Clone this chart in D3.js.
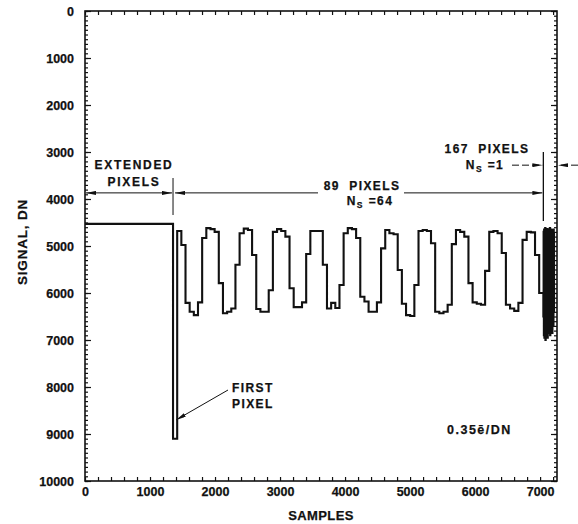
<!DOCTYPE html>
<html>
<head>
<meta charset="utf-8">
<script src="https://cdn.jsdelivr.net/npm/d3@7"></script>
<style>
  body { margin: 0; background: #fff; }
  svg { font-family: "Liberation Sans", Arial, Helvetica, sans-serif; font-weight: bold; }
  svg text { stroke: #111; stroke-width: 0.25px; white-space: pre; }
</style>
</head>
<body>
<svg width="578" height="524"></svg>
<script>
// extended pixels (flat level before the first pixel)
const extendedSamples = [0, 1354];
const extendedValues = [4530, 4520];

// 89 pixels, each summed over Ns = 64 samples, read pixel by pixel
const pixelStart = 1354;
const samplesPerPixel = 64;
const pixelValues = [9100, 4680, 4980, 6210, 6400, 6470, 6200, 4830, 4620, 4640,
  4700, 5790, 6430, 6400, 6330, 5400, 4730, 4630, 4660, 5190,
  6340, 6400, 6400, 5940, 4700, 4640, 4680, 4800, 5900, 6300,
  6300, 6200, 5170, 4680, 4680, 4680, 5400, 6330, 6210, 6320,
  5830, 4730, 4620, 4640, 4830, 6080, 6180, 6400, 6400, 6200,
  5050, 4660, 4730, 4750, 5510, 6230, 6470, 6490, 5830, 4680,
  4660, 4680, 4940, 6400, 6430, 6400, 6250, 4960, 4660, 4700,
  4800, 5790, 6200, 6230, 6250, 5530, 4700, 4680, 4730, 5150,
  6250, 6330, 6380, 6210, 4870, 4700, 4710, 5190, 6000];

// 167 pixels at Ns = 1, estimated every 4 samples (dense oscillation)
const fastStart = 7050;
const fastStep = 4;
const fastValues = [6500, 4700, 6900, 4650, 6950, 4700, 6800, 4620, 7000, 4680,
  6850, 4650, 6900, 4700, 6700, 4640, 6950, 4660, 6800, 4700,
  6600, 4650, 6850, 4680, 6700, 4620, 6900, 4700, 6500, 4650,
  6750, 4680, 6600, 4700, 6850, 4660, 6500, 4700, 6700, 4650,
  6400, 4720];
const fastEnd = 7217;

const xTicks = [0, 1000, 2000, 3000, 4000, 5000, 6000, 7000];
const yTicks = [0, 1000, 2000, 3000, 4000, 5000, 6000, 7000, 8000, 9000, 10000];

const svg = d3.select("svg");
const area = { left: 85, right: 557, top: 11, bottom: 481 };

const scX = d3.scaleLinear().domain([0, 7260]).range([area.left, area.right]);
const scY = d3.scaleLinear().domain([0, 10000]).range([area.top, area.bottom]);

// build series of points (sample, value)
let points = [];
extendedSamples.forEach((s, i) => points.push([s, extendedValues[i]]));
points.pop();
pixelValues.forEach((v, i) => points.push([pixelStart + i * samplesPerPixel, v]));
fastValues.forEach((v, i) => points.push([fastStart + i * fastStep, v]));
points.push([fastEnd, fastValues[fastValues.length - 1]]);

// ticks: minor ones
const minorX = d3.range(0, 7201, 200);
const minorY = d3.range(0, 10001, 100);

function tickAxis(axis, transform) {
  const g = svg.append("g").attr("transform", transform).call(axis);
  g.select(".domain").remove();
  g.selectAll("line").attr("stroke", "#111").attr("stroke-width", 1.2);
  return g;
}

tickAxis(d3.axisTop(scX).tickValues(minorX).tickSize(4).tickFormat(""), `translate(0,${area.bottom})`);
tickAxis(d3.axisBottom(scX).tickValues(minorX).tickSize(4).tickFormat(""), `translate(0,${area.top})`);
tickAxis(d3.axisRight(scY).tickValues(minorY).tickSize(3).tickFormat(""), `translate(${area.left},0)`);
tickAxis(d3.axisRight(scY).tickValues(yTicks).tickSize(6).tickFormat(""), `translate(${area.left},0)`);
tickAxis(d3.axisLeft(scY).tickValues(minorY).tickSize(3).tickFormat(""), `translate(${area.right},0)`);
tickAxis(d3.axisLeft(scY).tickValues(yTicks).tickSize(6).tickFormat(""), `translate(${area.right},0)`);

// labels
const yLab = svg.append("g")
  .attr("transform", `translate(${area.left},0)`)
  .call(d3.axisLeft(scY).tickValues(yTicks).tickSize(0).tickPadding(11).tickFormat(d3.format("d")));
yLab.select(".domain").remove();
yLab.selectAll("text").attr("font-size", 12.5).attr("font-family", null).attr("fill", "#111");

const xLab = svg.append("g")
  .attr("transform", `translate(0,${area.bottom})`)
  .call(d3.axisBottom(scX).tickValues(xTicks).tickSize(0).tickPadding(6).tickFormat(d3.format("d")));
xLab.select(".domain").remove();
xLab.selectAll("text").attr("font-size", 12.5).attr("font-family", null).attr("fill", "#111");

// frame
svg.append("rect")
  .attr("x", area.left).attr("y", area.top)
  .attr("width", area.right - area.left).attr("height", area.bottom - area.top)
  .attr("fill", "none").attr("stroke", "#111").attr("stroke-width", 1.6);

// signal
const line = d3.line()
  .x(d => scX(d[0]))
  .y(d => scY(d[1]))
  .curve(d3.curveStepAfter);

svg.append("path")
  .datum(points)
  .attr("d", line)
  .attr("fill", "none")
  .attr("stroke", "#111")
  .attr("stroke-width", 2.1);

// axis titles
svg.append("text")
  .attr("x", 321).attr("y", 520)
  .attr("text-anchor", "middle").attr("font-size", 13).attr("letter-spacing", 0.4)
  .attr("fill", "#111").text("SAMPLES");

svg.append("text")
  .attr("transform", "translate(27,242) rotate(-90)")
  .attr("text-anchor", "middle").attr("font-size", 13.5).attr("letter-spacing", 0.8)
  .attr("fill", "#111").text("SIGNAL, DN");

// arrow markers
const defs = svg.append("defs");
defs.append("marker")
  .attr("id", "arrow")
  .attr("viewBox", "0 0 10 4")
  .attr("refX", 10).attr("refY", 2)
  .attr("markerWidth", 10).attr("markerHeight", 4)
  .attr("markerUnits", "userSpaceOnUse")
  .attr("orient", "auto-start-reverse")
  .append("path").attr("d", "M0,0 L10,2 L0,4 Z").attr("fill", "#111");

function arrow(x1, y1, x2, y2, start, end, dash) {
  svg.append("line")
    .attr("x1", x1).attr("y1", y1).attr("x2", x2).attr("y2", y2)
    .attr("stroke", "#111").attr("stroke-width", 1)
    .attr("stroke-dasharray", dash || null)
    .attr("marker-start", start ? "url(#arrow)" : null)
    .attr("marker-end", end ? "url(#arrow)" : null);
}

function label(x, y, txt, size, spacing, anchor) {
  return svg.append("text")
    .attr("x", x).attr("y", y)
    .attr("text-anchor", anchor || "middle")
    .attr("font-size", size).attr("letter-spacing", spacing)
    .attr("fill", "#111").text(txt);
}

const yArrow = scY(3870);

// extended pixels
label(134, 169, "EXTENDED", 12, 1.7);
label(134, 186, "PIXELS", 12, 1.7);
arrow(scX(0) + 1, yArrow, scX(pixelStart) - 1, yArrow, true, true);
svg.append("line")
  .attr("x1", scX(pixelStart)).attr("x2", scX(pixelStart))
  .attr("y1", 178).attr("y2", 215)
  .attr("stroke", "#111").attr("stroke-width", 1);

// 89 pixels
label(362, 190, "89\u00a0\u00a0PIXELS", 12, 1.4);
const ns64 = label(370, 205, "N", 12, 1.4);
ns64.append("tspan").attr("font-size", 8.5).attr("dy", 3).text("S");
ns64.append("tspan").attr("dy", -3).text("\u00a0=64");
arrow(scX(pixelStart) + 2, yArrow, 318, yArrow, true, false);
arrow(404, yArrow, scX(fastStart) - 1, yArrow, false, true);

// 167 pixels
label(487, 153, "167\u00a0\u00a0PIXELS", 12, 1.4);
const ns1 = label(485, 169, "N", 12, 1.4);
ns1.append("tspan").attr("font-size", 8.5).attr("dy", 3).text("S");
ns1.append("tspan").attr("dy", -3).text("\u00a0=1");
arrow(512, scY(3280), scX(fastStart) - 1, scY(3280), false, true, "7,3");
arrow(578, scY(3280), area.right + 1, scY(3280), false, true, "7,3");
svg.append("line")
  .attr("x1", scX(fastStart)).attr("x2", scX(fastStart))
  .attr("y1", 152).attr("y2", 221)
  .attr("stroke", "#111").attr("stroke-width", 1.3);

// first pixel
label(232, 392, "FIRST", 12, 1.4, "start");
label(232, 408, "PIXEL", 12, 1.4, "start");
arrow(228, 390, scX(pixelStart + samplesPerPixel / 2) + 1, scY(8700), false, true);

// gain
label(447, 434, "0.35ē/DN", 12.5, 1.5, "start");
</script>
</body>
</html>
